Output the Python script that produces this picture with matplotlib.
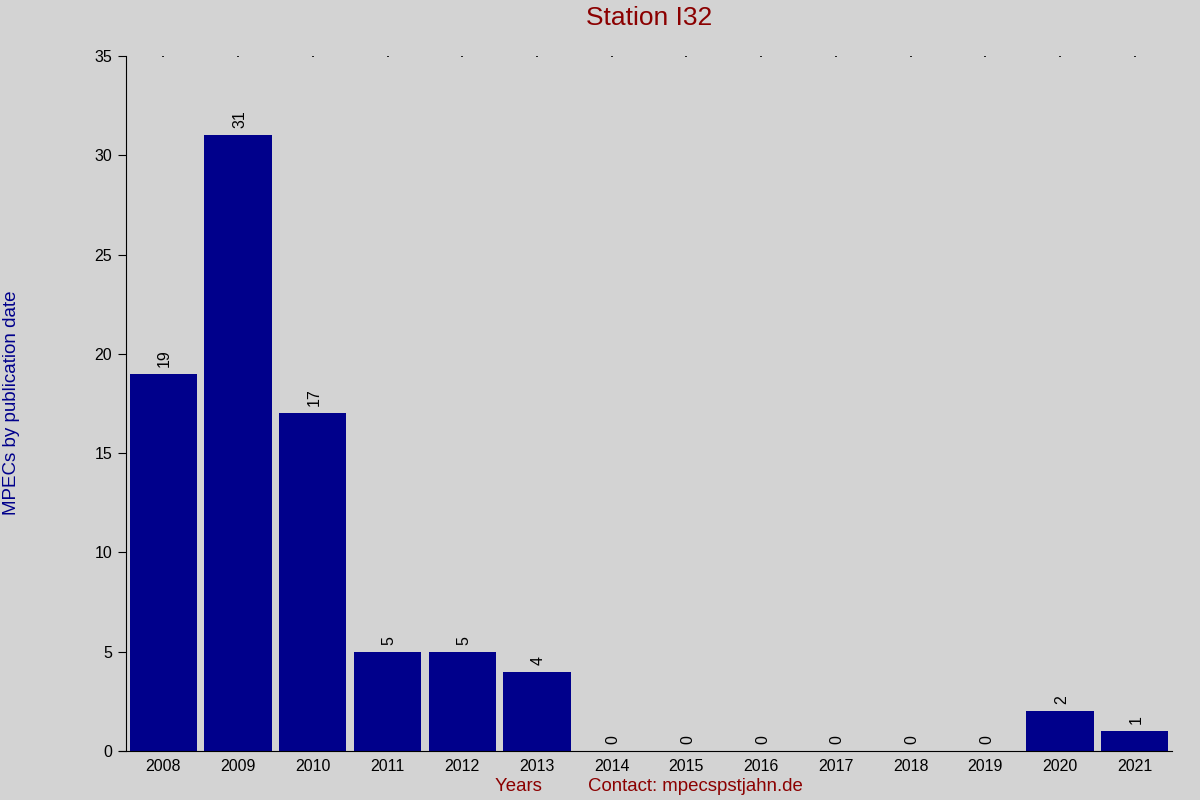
import matplotlib.pyplot as plt

plt.rcParams['font.family'] = ['Liberation Sans', 'DejaVu Sans']

years = ['2008', '2009', '2010', '2011', '2012', '2013', '2014',
         '2015', '2016', '2017', '2018', '2019', '2020', '2021']
counts = [19, 31, 17, 5, 5, 4, 0, 0, 0, 0, 0, 0, 2, 1]
yticks = [0, 5, 10, 15, 20, 25, 30, 35]

bg = '#d3d3d3'
fig = plt.figure(figsize=(12, 8), dpi=100, facecolor=bg)
ax = fig.add_axes([0.105, 0.06125, 0.8717, 0.86875], facecolor=bg)

x = range(len(years))
bars = ax.bar(x, counts, width=0.9, color='#00008b')
for b, c in zip(bars, counts):
    ax.annotate(str(c), (b.get_x() + b.get_width() / 2, c),
                xytext=(1, 5), textcoords='offset points',
                rotation=90, ha='center', va='bottom', fontsize=11.5)

ax.set_xlim(-0.5, len(years) - 0.5)
ax.set_ylim(0, 35)
ax.set_xticks(list(x))
ax.set_xticklabels(years, fontsize=11.5)
ax.set_yticks(yticks)
ax.tick_params(axis='y', labelsize=11.5, length=6, direction='out', pad=4)
ax.tick_params(axis='x', bottom=False, top=True, length=1, width=1.2,
               direction='in', pad=6)

ax.spines['top'].set_visible(False)
ax.spines['right'].set_visible(False)
ax.spines['bottom'].set_bounds(-0.6, len(years) - 0.5)

fig.text(0.541, 0.977, 'Station I32', color='#8b0000', fontsize=19,
         ha='center', va='center')
fig.text(0.0095, 0.4965, 'MPECs by publication date', color='#00008b',
         fontsize=13.5, rotation=90, ha='center', va='center')
fig.text(0.541, 0.017, 'Years         Contact: mpecspstjahn.de',
         color='#8b0000', fontsize=13.4, ha='center', va='center')

plt.savefig('out.png', dpi=100, facecolor=bg)
